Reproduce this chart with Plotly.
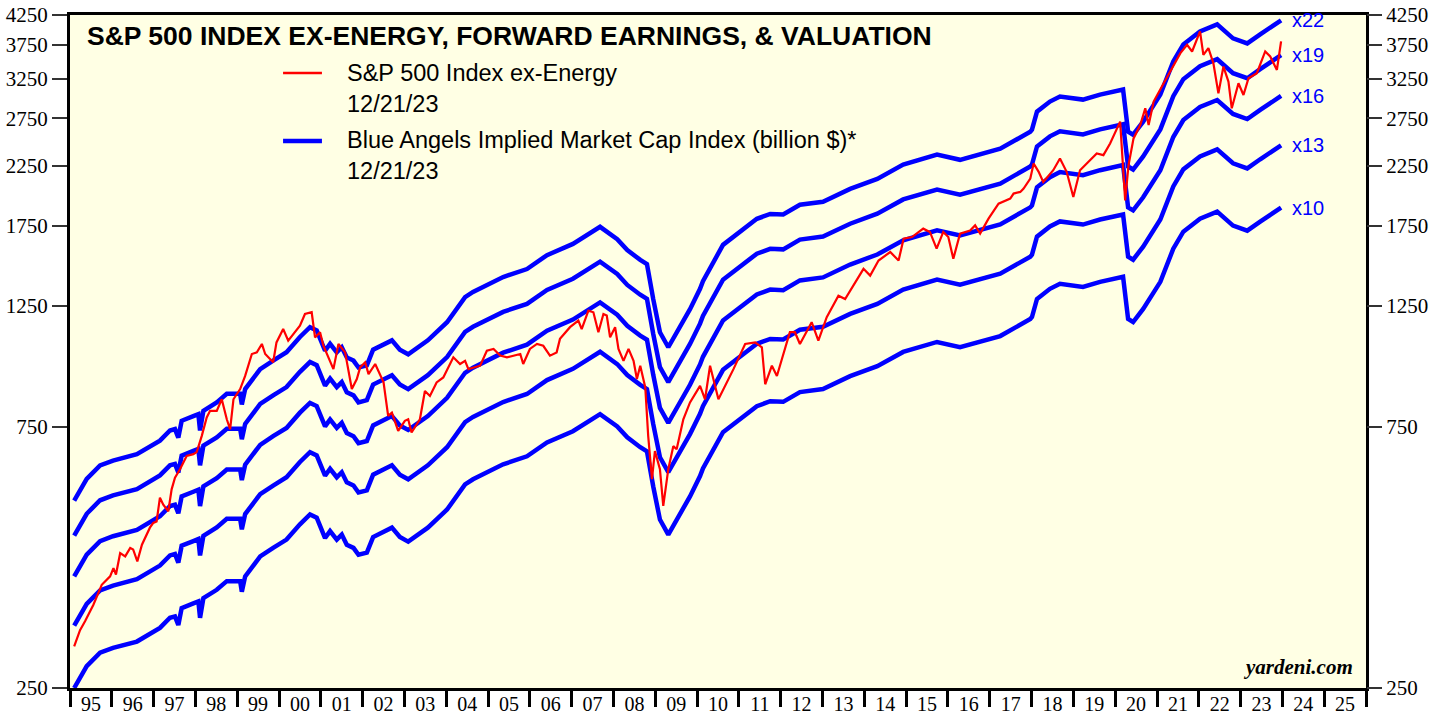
import numpy as np
import pandas as pd
import plotly.graph_objects as go

# ---------------- data ----------------
# S&P 500 Index ex-Energy (decimal year, index level)
spx_years = [
    1995.10, 1995.24, 1995.36, 1995.56, 1995.76, 1995.96, 1996.04, 1996.10, 1996.20, 1996.32,
    1996.44, 1996.51, 1996.61, 1996.72, 1996.91, 1996.99, 1997.07, 1997.15, 1997.23, 1997.35,
    1997.43, 1997.51, 1997.63, 1997.79, 1997.95, 1998.03, 1998.15, 1998.27, 1998.35, 1998.51,
    1998.63, 1998.75, 1998.83, 1998.91, 1999.07, 1999.19, 1999.35, 1999.47, 1999.59, 1999.67,
    1999.86, 1999.94, 2000.10, 2000.22, 2000.50, 2000.62, 2000.78, 2000.86, 2000.98, 2001.06,
    2001.30, 2001.42, 2001.58, 2001.74, 2001.86, 2001.94, 2002.06, 2002.14, 2002.30, 2002.42,
    2002.50, 2002.61, 2002.70, 2002.85, 2003.01, 2003.09, 2003.17, 2003.37, 2003.49, 2003.61,
    2003.77, 2003.93, 2004.17, 2004.33, 2004.45, 2004.53, 2004.65, 2004.81, 2004.97, 2005.13,
    2005.29, 2005.45, 2005.77, 2005.84, 2006.00, 2006.17, 2006.32, 2006.48, 2006.64, 2006.72,
    2006.96, 2007.16, 2007.24, 2007.40, 2007.52, 2007.64, 2007.76, 2007.84, 2007.92, 2008.04,
    2008.12, 2008.24, 2008.36, 2008.48, 2008.56, 2008.64, 2008.76, 2008.83, 2008.92, 2008.99,
    2009.11, 2009.19, 2009.31, 2009.43, 2009.51, 2009.67, 2009.83, 2010.07, 2010.19, 2010.31,
    2010.51, 2010.67, 2010.87, 2011.15, 2011.39, 2011.55, 2011.63, 2011.79, 2011.91, 2012.03,
    2012.22, 2012.34, 2012.46, 2012.74, 2012.90, 2013.10, 2013.38, 2013.54, 2013.74, 2013.98,
    2014.14, 2014.34, 2014.62, 2014.82, 2014.94, 2015.14, 2015.41, 2015.57, 2015.73, 2015.89,
    2016.01, 2016.13, 2016.29, 2016.53, 2016.65, 2016.77, 2016.97, 2017.21, 2017.49, 2017.57,
    2017.73, 2017.81, 2017.97, 2018.05, 2018.17, 2018.28, 2018.52, 2018.68, 2018.84, 2019.00,
    2019.16, 2019.40, 2019.56, 2019.72, 2019.88, 2020.12, 2020.24, 2020.32, 2020.44, 2020.60,
    2020.72, 2020.80, 2020.92, 2021.16, 2021.32, 2021.56, 2021.72, 2021.84, 2022.03, 2022.11,
    2022.23, 2022.35, 2022.47, 2022.59, 2022.71, 2022.79, 2022.95, 2023.07, 2023.19, 2023.39,
    2023.59, 2023.71, 2023.87, 2023.97,
]
spx_values = [
    298, 319, 331, 355, 386, 400, 414, 403, 441, 435,
    451, 448, 426, 457, 491, 501, 504, 557, 541, 526,
    577, 606, 628, 664, 669, 675, 722, 781, 803, 803,
    843, 775, 743, 843, 880, 930, 1020, 1027, 1064, 1020,
    985, 1071, 1133, 1079, 1149, 1207, 1216, 1094, 1118, 1056,
    957, 1064, 1027, 880, 918, 964, 985, 937, 978, 937,
    905, 786, 797, 738, 770, 775, 733, 775, 873, 855,
    905, 924, 1006, 978, 991, 957, 964, 971, 1034, 1042,
    1013, 1006, 1020, 978, 1042, 1064, 1056, 1013, 1027, 1087,
    1142, 1174, 1133, 1224, 1216, 1118, 1207, 1199, 1094, 1142,
    1042, 991, 1042, 991, 918, 971, 886, 722, 602, 678,
    628, 538, 628, 692, 683, 775, 832, 892, 843, 971,
    843, 892, 957, 1064, 1071, 1049, 898, 971, 930, 999,
    1118, 1118, 1064, 1166, 1079, 1191, 1304, 1286, 1361, 1460,
    1419, 1512, 1567, 1512, 1657, 1669, 1729, 1705, 1589, 1705,
    1669, 1523, 1693, 1716, 1753, 1693, 1803, 1921, 1962, 2004,
    2018, 2047, 2135, 2275, 2196, 2105, 2211, 2323, 2196, 1976,
    2211, 2307, 2373, 2356, 2475, 2713, 1948, 2258, 2528, 2674,
    2869, 2674, 2952, 3189, 3350, 3619, 3748, 3645, 3966, 3593,
    3696, 3469, 3056, 3421, 3211, 2869, 3189, 3035, 3256, 3326,
    3645, 3569, 3373, 3802,
]

# Forward earnings ex-Energy (decimal year, index units); Blue Angels = earnings x multiple
eps_years = [
    1995.10, 1995.40, 1995.72, 1996.03, 1996.60, 1997.15, 1997.39, 1997.51, 1997.59, 1997.67,
    1997.95, 1998.07, 1998.11, 1998.19, 1998.51, 1998.75, 1999.07, 1999.11, 1999.19, 1999.55,
    1999.86, 2000.18, 2000.50, 2000.74, 2000.90, 2001.10, 2001.22, 2001.38, 2001.50, 2001.62,
    2001.78, 2001.90, 2002.10, 2002.25, 2002.70, 2002.89, 2003.09, 2003.56, 2004.02, 2004.45,
    2004.64, 2005.36, 2005.93, 2006.41, 2007.03, 2007.68, 2008.09, 2008.33, 2008.64, 2008.80,
    2008.95, 2009.11, 2009.31, 2009.52, 2009.83, 2010.07, 2010.14, 2010.62, 2011.43, 2011.75,
    2012.06, 2012.46, 2013.01, 2013.66, 2014.31, 2014.93, 2015.74, 2016.29, 2016.77, 2017.25,
    2017.97, 2018.01, 2018.13, 2018.44, 2018.68, 2019.23, 2019.64, 2020.19, 2020.31, 2020.43,
    2020.67, 2021.08, 2021.39, 2021.63, 2022.03, 2022.44, 2022.82, 2023.16, 2023.47, 2023.97,
]
eps_values = [
    25.0, 27.4, 29.0, 29.6, 30.4, 32.2, 33.6, 33.8, 32.6, 35.0,
    35.7, 36.0, 33.6, 36.5, 37.8, 39.2, 39.2, 37.5, 40.0, 43.5,
    45.1, 46.7, 49.8, 51.9, 51.2, 47.0, 48.4, 46.7, 47.7, 45.7,
    45.1, 43.8, 44.2, 47.2, 49.1, 47.2, 46.3, 49.1, 53.0, 58.9,
    60.2, 64.1, 66.3, 70.3, 73.7, 79.2, 75.2, 71.8, 68.9, 67.7,
    58.4, 50.8, 47.7, 50.8, 56.0, 61.0, 63.0, 73.4, 81.9, 83.6,
    83.4, 86.9, 88.0, 92.9, 96.9, 102.9, 107.3, 105.0, 107.3, 110.0,
    118.2, 119.2, 128.6, 134.2, 137.1, 135.3, 138.2, 141.2, 118.2, 116.7,
    123.3, 138.2, 158.9, 170.7, 180.3, 185.7, 175.1, 171.4, 178.1, 188.9,
]

multiples = [10, 13, 16, 19, 22]
band_labels = ["x10", "x13", "x16", "x19", "x22"]

y_ticks = [250, 750, 1250, 1750, 2250, 2750, 3250, 3750, 4250]
y_range = [250, 4250]
x_range = ["1995-01-01", "2026-01-01"]

title_text = "S&P 500 INDEX EX-ENERGY, FORWARD EARNINGS, & VALUATION"
legend_red = "S&P 500 Index ex-Energy<br>12/21/23"
legend_blue = "Blue Angels Implied Market Cap Index (billion $)*<br>12/21/23"


def to_dates(years):
    out = []
    for y in years:
        yi = int(np.floor(y))
        start = pd.Timestamp(year=yi, month=1, day=1)
        end = pd.Timestamp(year=yi + 1, month=1, day=1)
        out.append(start + (end - start) * (y - yi))
    return out


spx_dates = to_dates(spx_years)
eps_dates = to_dates(eps_years)

BLUE = "#0000FF"
RED = "#FF0000"
BG = "#FFFFE4"
SANS = "Liberation Sans, Arial, sans-serif"
SERIF = "Liberation Serif, Times New Roman, serif"

fig = go.Figure()

for m in multiples:
    fig.add_trace(go.Scatter(
        x=eps_dates, y=[e * m for e in eps_values], mode="lines",
        line=dict(color=BLUE, width=4.5), showlegend=False, hoverinfo="skip",
    ))

fig.add_trace(go.Scatter(
    x=spx_dates, y=spx_values, mode="lines",
    line=dict(color=RED, width=2.2), showlegend=False,
))

# invisible trace to activate the right-hand axis
fig.add_trace(go.Scatter(
    x=[spx_dates[0]], y=[spx_values[0]], yaxis="y2", mode="lines",
    line=dict(width=0), showlegend=False, hoverinfo="skip",
))

annotations = []
for m, lab in zip(multiples, band_labels):
    annotations.append(dict(
        x=eps_dates[-1], y=np.log10(eps_values[-1] * m), xref="x", yref="y",
        text=lab, showarrow=False, xanchor="left", yanchor="middle", xshift=9,
        font=dict(family=SANS, size=20, color=BLUE),
    ))

annotations.append(dict(
    x=0.0116, y=0.9688, xref="paper", yref="paper", text="<b>" + title_text + "</b>",
    showarrow=False, xanchor="left", yanchor="middle",
    font=dict(family=SANS, size=26.5, color="black"),
))
annotations.append(dict(
    x=0.2122, y=0.8915, xref="paper", yref="paper", text=legend_red,
    showarrow=False, xanchor="left", yanchor="middle", align="left",
    font=dict(family=SANS, size=23.5, color="black"),
))
annotations.append(dict(
    x=0.2122, y=0.7905, xref="paper", yref="paper", text=legend_blue,
    showarrow=False, xanchor="left", yanchor="middle", align="left",
    font=dict(family=SANS, size=23.5, color="black"),
))
annotations.append(dict(
    x=0.9915, y=0.01, xref="paper", yref="paper", text="<b><i>yardeni.com</i></b>",
    showarrow=False, xanchor="right", yanchor="bottom",
    font=dict(family=SERIF, size=21, color="black"),
))

shapes = [
    dict(type="line", xref="paper", yref="paper", x0=0.1644, x1=0.1944, y0=0.9138, y1=0.9138,
         line=dict(color=RED, width=2.5)),
    dict(type="line", xref="paper", yref="paper", x0=0.1644, x1=0.1944, y0=0.8128, y1=0.8128,
         line=dict(color=BLUE, width=4.5)),
]

yaxis_common = dict(
    type="log", range=[np.log10(y_range[0]), np.log10(y_range[1])],
    tickvals=y_ticks, ticktext=[str(t) for t in y_ticks],
    ticks="outside", ticklen=15, tickwidth=2, tickcolor="#333333",
    showgrid=False, zeroline=False, automargin=False, ticklabeloverflow="allow",
    tickfont=dict(family=SERIF, size=21, color="black"),
)

fig.update_layout(
    width=1448, height=717,
    margin=dict(l=70, r=82, t=15, b=29),
    paper_bgcolor="white", plot_bgcolor=BG,
    showlegend=False,
    xaxis=dict(
        type="date", range=x_range, dtick="M12", tick0="1995-01-01",
        tickformat="%y", ticklabelmode="period",
        ticks="outside", ticklen=16, tickwidth=3, tickcolor="black",
        ticklabelstandoff=-20, ticklabeloverflow="allow",
        showgrid=False, zeroline=False, automargin=False,
        showline=True, linewidth=3, linecolor="black", mirror=True,
        tickfont=dict(family=SERIF, size=20, color="black"),
    ),
    yaxis=dict(**yaxis_common, showline=True, linewidth=3, linecolor="black", mirror=True),
    yaxis2=dict(**yaxis_common, overlaying="y", side="right", showline=False),
    annotations=annotations,
    shapes=shapes,
)

# remove the default page margin so the figure fills the window exactly
fig.write_html("out.html", config={"displayModeBar": False},
               post_script="document.body.style.margin='0';")
